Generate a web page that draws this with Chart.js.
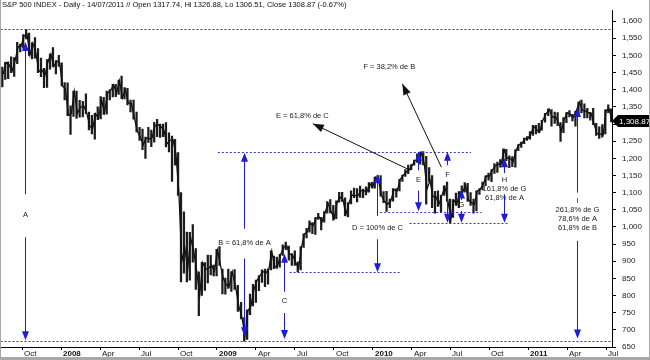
<!DOCTYPE html>
<html>
<head>
<meta charset="utf-8">
<script src="https://cdn.jsdelivr.net/npm/chart.js@4.4.1/dist/chart.umd.min.js"></script>
<style>
  html, body { margin: 0; padding: 0; background: #fff; }
  canvas { display: block; }
</style>
</head>
<body>
<canvas id="spx" width="650" height="360"></canvas>
<script>
// S&P 500, weekly high/low/close (week starting Monday)
const weekStart = [
  '2007-08-13','2007-08-20','2007-08-27','2007-09-03','2007-09-10','2007-09-17','2007-09-24','2007-10-01','2007-10-08','2007-10-15','2007-10-22','2007-10-29','2007-11-05','2007-11-12','2007-11-19','2007-11-26','2007-12-03','2007-12-10','2007-12-17','2007-12-24','2007-12-31',
  '2008-01-07','2008-01-14','2008-01-21','2008-01-28','2008-02-04','2008-02-11','2008-02-18','2008-02-25','2008-03-03','2008-03-10','2008-03-17','2008-03-24','2008-03-31','2008-04-07','2008-04-14','2008-04-21','2008-04-28','2008-05-05','2008-05-12','2008-05-19','2008-05-26','2008-06-02','2008-06-09','2008-06-16','2008-06-23','2008-06-30','2008-07-07','2008-07-14','2008-07-21','2008-07-28','2008-08-04','2008-08-11','2008-08-18','2008-08-25','2008-09-01','2008-09-08','2008-09-15','2008-09-22','2008-09-29','2008-10-06','2008-10-13','2008-10-20','2008-10-27','2008-11-03','2008-11-10','2008-11-17','2008-11-24','2008-12-01','2008-12-08','2008-12-15','2008-12-22','2008-12-29',
  '2009-01-05','2009-01-12','2009-01-19','2009-01-26','2009-02-02','2009-02-09','2009-02-16','2009-02-23','2009-03-02','2009-03-09','2009-03-16','2009-03-23','2009-03-30','2009-04-06','2009-04-13','2009-04-20','2009-04-27','2009-05-04','2009-05-11','2009-05-18','2009-05-25','2009-06-01','2009-06-08','2009-06-15','2009-06-22','2009-06-29','2009-07-06','2009-07-13','2009-07-20','2009-07-27','2009-08-03','2009-08-10','2009-08-17','2009-08-24','2009-08-31','2009-09-07','2009-09-14','2009-09-21','2009-09-28','2009-10-05','2009-10-12','2009-10-19','2009-10-26','2009-11-02','2009-11-09','2009-11-16','2009-11-23','2009-11-30','2009-12-07','2009-12-14','2009-12-21','2009-12-28',
  '2010-01-04','2010-01-11','2010-01-18','2010-01-25','2010-02-01','2010-02-08','2010-02-15','2010-02-22','2010-03-01','2010-03-08','2010-03-15','2010-03-22','2010-03-29','2010-04-05','2010-04-12','2010-04-19','2010-04-26','2010-05-03','2010-05-10','2010-05-17','2010-05-24','2010-05-31','2010-06-07','2010-06-14','2010-06-21','2010-06-28','2010-07-05','2010-07-12','2010-07-19','2010-07-26','2010-08-02','2010-08-09','2010-08-16','2010-08-23','2010-08-30','2010-09-06','2010-09-13','2010-09-20','2010-09-27','2010-10-04','2010-10-11','2010-10-18','2010-10-25','2010-11-01','2010-11-08','2010-11-15','2010-11-22','2010-11-29','2010-12-06','2010-12-13','2010-12-20','2010-12-27',
  '2011-01-03','2011-01-10','2011-01-17','2011-01-24','2011-01-31','2011-02-07','2011-02-14','2011-02-21','2011-02-28','2011-03-07','2011-03-14','2011-03-21','2011-03-28','2011-04-04','2011-04-11','2011-04-18','2011-04-25','2011-05-02','2011-05-09','2011-05-16','2011-05-23','2011-05-30','2011-06-06','2011-06-13','2011-06-20','2011-06-27','2011-07-04','2011-07-11'
];
const weekHigh = [
  1466,1480,1481,1496,1494,1538,1533,1561,1576,1565,1537,1552,1520,1492,1462,1488,1504,1523,1485,1500,1478,
  1421,1420,1353,1396, 1396,1369,1366,1388, 1335,1325,1331,1350,1380, 1378,1396,1400,1416, 1416,1428,1440,1406, 1404,1370,1370,1335,1290, 1285,1262,1290,1282, 1305,1314,1300,1300, 1304,1274,1265,1255,1217, 1100,1044,985,984, 1007,937,869,897, 896,918,917,889,935,
  943,877,851,877, 870,876,830,780, 736,758,804,833,845, 858,875,877,878, 930,915,912,920, 948,956,944,922,930, 898,943,980,996, 1018,1013,1027,1040,1028, 1045,1074,1080,1063, 1076,1101,1101,1085, 1071,1105,1113,1112,1119, 1110,1117,1129,1130,
  1145,1150,1150,1103, 1104,1081,1112,1112, 1139,1151,1167,1180,1182, 1195,1213,1218,1220, 1206,1173,1150,1104,1105, 1092,1120,1131,1081, 1080,1099,1103,1120, 1129,1127,1100,1081,1105, 1112,1131,1149,1157, 1167,1185,1189,1196, 1227,1226,1207,1205,1225, 1240,1247,1259,1263,
  1278,1296,1296,1302,1311, 1331,1344,1342,1335, 1333,1304,1319,1333, 1339,1328,1338,1364, 1370,1359,1346,1334,1346, 1302,1292,1298,1341, 1356,1344
];
const weekLow = [
  1408,1430,1432,1450,1439,1476,1510,1521,1548,1500,1490,1492,1450,1438,1406,1407,1460,1467,1446,1468,1411,
  1370,1324,1270,1322, 1316,1320,1321,1330, 1283,1271,1256,1313,1315, 1328,1329,1370,1379, 1380,1386,1374,1373, 1356,1335,1314,1277,1252, 1225,1200,1246,1234, 1247,1263,1261,1263, 1233,1219,1133,1180,1092, 840,865,840,845, 897,818,741,800, 815,837,860,857,857,
  888,805,804,821, 812,818,754,732, 667,672,744,770,780, 814,838,826,833, 875,878,879,883, 917,934,903,888,888, 869,875,940,968, 985,980,978,1022,991, 1014,1040,1041,1020, 1024,1072,1074,1033, 1029,1067,1085,1073,1086, 1085,1093,1101,1114,
  1113,1128,1090,1071, 1045,1056,1075,1087, 1105,1133,1147,1155,1167, 1180,1188,1183,1181, 1066,1133,1056,1040,1060, 1043,1092,1074,1011, 1028,1063,1056,1088, 1101,1074,1063,1040,1047, 1095,1108,1120,1136, 1132,1156,1159,1174, 1178,1193,1173,1176,1174, 1222,1232,1243,1252,
  1256,1267,1271,1275,1282, 1305,1324,1294,1302, 1295,1249,1275,1304, 1321,1309,1294,1331, 1332,1318,1318,1311,1298, 1267,1258,1262,1271, 1333,1306
];
const weekClose = [
  1445,1479,1473,1454,1484,1525,1527,1557,1562,1501,1535,1509,1453,1458,1441,1481,1504,1468,1484,1478,1411,
  1401,1325,1331,1395, 1331,1349,1353,1331, 1294,1288,1330,1316,1370, 1333,1390,1398,1414, 1389,1426,1376,1400, 1361,1360,1318,1278,1262, 1240,1260,1257,1260, 1296,1298,1292,1283, 1242,1252,1255,1213,1099, 899,940,877,968, 930,873,800,896, 876,880,888,872,932,
  890,850,832,826, 869,827,770,735, 683,756,769,816,843, 857,870,866,877, 929,883,887,919, 940,946,921,918,896, 879,941,979,987, 1010,1005,1026,1029,1016, 1042,1068,1044,1025, 1071,1087,1080,1036, 1069,1093,1091,1091,1106, 1106,1102,1126,1115,
  1145,1136,1092,1074, 1066,1075,1109,1105, 1139,1150,1160,1167,1179, 1194,1192,1217,1187, 1111,1136,1088,1089,1065, 1092,1117,1076,1023, 1078,1065,1102,1101, 1122,1079,1071,1065,1105, 1110,1125,1149,1147, 1166,1177,1183,1183, 1225,1200,1200,1190,1225, 1240,1244,1257,1258,
  1271,1293,1283,1276,1310, 1329,1343,1320,1321, 1304,1279,1314,1333, 1328,1320,1338,1364, 1340,1338,1333,1331,1300, 1271,1271,1268,1340, 1344,1309
];
const lastClose = 1308.87;
const headerText = 'S&P 500 INDEX - Daily - 14/07/2011 // Open 1317.74, Hi 1326.88, Lo 1306.51, Close 1308.87 (-0.67%)';

// x ticks (months counted from Jan 2007)
const tickMonths = [9, 12, 15, 18, 21, 24, 27, 30, 33, 36, 39, 42, 45, 48, 51, 54];
const tickLabels = ['Oct','2008','Apr','Jul','Oct','2009','Apr','Jul','Oct','2010','Apr','Jul','Oct','2011','Apr','Jul'];

// dotted horizontal levels
const levelValue = [1576, 666.8, 1219.8, 869, 1044.5, 1010.9];
const levelFrom  = ['2007-08-01','2007-08-01','2009-01-03','2009-06-19','2010-01-19','2010-03-27'];
const levelTo    = ['2011-07-31','2011-07-31','2010-08-19','2010-03-04','2010-09-13','2010-11-16'];

// blue measuring arrows
const arrowDate   = ['2007-10-08','2009-03-03','2009-06-05','2010-01-11','2010-04-17','2010-06-24','2010-07-27','2010-11-05','2011-04-24'];
const arrowTop    = [1539, 1216, 922, 1154, 1219, 1219, 1109, 1200, 1347];
const arrowBottom = [670, 681, 673, 868, 1046, 1012, 1012, 1012, 675];
const gapTop      = [1095, 995, 811, 1032, 1165, 1180, 1078, 1157, 1100];
const gapBottom   = [970, 908, 749, 964, 1106, 1123, 1046, 1095, 959];
const arrowText   = [['A'], ['B = 61,8% de A'], ['C'], ['D = 100% de C'], ['E'], ['F'], ['G'],
                     ['H', '161,8% de G', '61,8% de A'], ['I', '261,8% de G', '78,6% de A', '61,8% de B']];
const textValue   = [1035, 953, 783, 998, 1137, 1151, 1063, 1111, 1036];

// black pointer arrows with captions
const pointerFrom = [['2010-03-29', 1165], ['2010-06-10', 1174]];
const pointerTo   = [['2009-08-13', 1301], ['2010-03-10', 1417]];
const pointerText = ['E = 61,8% de C', 'F = 38,2% de B'];
const pointerTextAt = [['2009-07-19', 1324], ['2010-02-09', 1466]];

const FONT = "'Liberation Sans', Arial, sans-serif";
const BLUE = '#1c1cdc';

function monthPos(s, shift) {
  const d = new Date(s + 'T00:00:00Z');
  d.setUTCDate(d.getUTCDate() + (shift || 0));
  const y = d.getUTCFullYear(), m = d.getUTCMonth();
  const dim = new Date(Date.UTC(y, m + 1, 0)).getUTCDate();
  return (y - 2007) * 12 + m + (d.getUTCDate() - 1) / dim;
}

function head(ctx, fx, fy, tx, ty, len, half) {
  const a = Math.atan2(ty - fy, tx - fx);
  const bx = tx - len * Math.cos(a), by = ty - len * Math.sin(a);
  ctx.beginPath();
  ctx.moveTo(tx, ty);
  ctx.lineTo(bx - half * Math.sin(a), by + half * Math.cos(a));
  ctx.lineTo(bx + half * Math.sin(a), by - half * Math.cos(a));
  ctx.closePath();
  ctx.fill();
}

const overlay = {
  id: 'overlay',
  afterDatasetsDraw(chart) {
    const ctx = chart.ctx;
    const xs = chart.scales.x, ys = chart.scales.y;
    const area = chart.chartArea;
    ctx.save();

    // levels
    ctx.save();
    ctx.beginPath();
    ctx.rect(area.left, area.top, area.right - area.left, area.bottom - area.top);
    ctx.clip();
    ctx.strokeStyle = '#3434c8';
    ctx.lineWidth = 1;
    ctx.setLineDash([2, 2]);
    levelValue.forEach((v, i) => {
      const y = Math.round(ys.getPixelForValue(v)) + 0.5;
      ctx.beginPath();
      ctx.moveTo(xs.getPixelForValue(monthPos(levelFrom[i])), y);
      ctx.lineTo(xs.getPixelForValue(monthPos(levelTo[i])), y);
      ctx.stroke();
    });
    ctx.restore();

    // blue arrows
    ctx.font = '7.5px ' + FONT;
    ctx.textAlign = 'center';
    ctx.textBaseline = 'middle';
    arrowDate.forEach((d, i) => {
      const x = Math.round(xs.getPixelForValue(monthPos(d))) + 0.5;
      const yTop = ys.getPixelForValue(arrowTop[i]);
      const yBot = ys.getPixelForValue(arrowBottom[i]);
      const g1 = ys.getPixelForValue(gapTop[i]);
      const g2 = ys.getPixelForValue(gapBottom[i]);
      ctx.strokeStyle = BLUE;
      ctx.fillStyle = BLUE;
      ctx.lineWidth = 1;
      ctx.beginPath();
      ctx.moveTo(x, g1); ctx.lineTo(x, yTop + 4);
      ctx.moveTo(x, g2); ctx.lineTo(x, yBot - 4);
      ctx.stroke();
      head(ctx, x, g1, x, yTop, 9, 3.5);
      head(ctx, x, g2, x, yBot, 9, 3.5);
      const lines = arrowText[i];
      const yc = ys.getPixelForValue(textValue[i]);
      ctx.fillStyle = '#1a1a1a';
      lines.forEach((t, k) => {
        ctx.fillText(t, x, yc + (k - (lines.length - 1) / 2) * 9);
      });
    });

    // black pointers
    ctx.strokeStyle = '#111';
    ctx.fillStyle = '#111';
    pointerFrom.forEach((p, i) => {
      const fx = xs.getPixelForValue(monthPos(p[0])), fy = ys.getPixelForValue(p[1]);
      const tx = xs.getPixelForValue(monthPos(pointerTo[i][0])), ty = ys.getPixelForValue(pointerTo[i][1]);
      ctx.beginPath();
      ctx.moveTo(fx, fy); ctx.lineTo(tx, ty);
      ctx.stroke();
      head(ctx, fx, fy, tx, ty, 11, 4);
      ctx.fillStyle = '#1a1a1a';
      ctx.fillText(pointerText[i], xs.getPixelForValue(monthPos(pointerTextAt[i][0])), ys.getPixelForValue(pointerTextAt[i][1]));
      ctx.fillStyle = '#111';
    });

    // header, fitted to the width it has in the source window
    ctx.font = '10px ' + FONT;
    const w = ctx.measureText(headerText).width;
    ctx.font = (10 * 345 / w).toFixed(2) + 'px ' + FONT;
    ctx.textAlign = 'left';
    ctx.fillStyle = '#111';
    ctx.fillText(headerText, 2, 5);
    ctx.restore();
  },
  afterDraw(chart) {
    const ctx = chart.ctx;
    const xs = chart.scales.x, ys = chart.scales.y;
    const area = chart.chartArea;
    ctx.save();

    // date labels, left-aligned just after each tick
    ctx.textAlign = 'left';
    ctx.textBaseline = 'middle';
    ctx.fillStyle = '#111';
    tickMonths.forEach((v, i) => {
      const isYear = /^\d{4}$/.test(tickLabels[i]);
      ctx.font = (isYear ? 'bold ' : '') + '8px ' + FONT;
      ctx.fillText(tickLabels[i], Math.round(xs.getPixelForValue(v)) + 2, area.bottom + 6.5);
    });

    // last price tag
    const y = Math.round(ys.getPixelForValue(lastClose));
    ctx.fillStyle = '#000';
    ctx.beginPath();
    ctx.moveTo(area.right, y);
    ctx.lineTo(area.right + 6, y - 6);
    ctx.lineTo(650, y - 6);
    ctx.lineTo(650, y + 6);
    ctx.lineTo(area.right + 6, y + 6);
    ctx.closePath();
    ctx.fill();
    ctx.fillStyle = '#fff';
    ctx.font = '8px ' + FONT;
    ctx.fillText(lastClose.toLocaleString('en-US', { minimumFractionDigits: 2 }), area.right + 7, y + 0.5);

    // window frame
    ctx.fillStyle = '#a8a8a8';
    ctx.fillRect(0, 0, 1, 360);
    ctx.fillRect(649, 0, 1, 360);
    ctx.fillRect(0, 357, 650, 3);
    ctx.restore();
  }
};

Chart.defaults.font.family = FONT;
Chart.defaults.font.size = 8;
Chart.defaults.color = '#1a1a1a';

const bars = weekStart.map((w, i) => ({ x: monthPos(w, 2), y: [weekLow[i], weekHigh[i]] }));
const closes = weekStart.map((w, i) => ({ x: monthPos(w, 4), y: weekClose[i] }));

new Chart(document.getElementById('spx'), {
  type: 'bar',
  data: {
    datasets: [{
      type: 'line',
      data: closes,
      borderColor: '#111',
      borderWidth: 1.3,
      pointRadius: 0,
      tension: 0
    }, {
      data: bars,
      backgroundColor: '#1c1c1c',
      borderWidth: 0,
      barThickness: 1.6
    }]
  },
  options: {
    responsive: false,
    animation: false,
    layout: { padding: { left: 1, top: 1, right: 0, bottom: 0 } },
    plugins: { legend: { display: false }, tooltip: { enabled: false } },
    scales: {
      x: {
        type: 'linear',
        offset: false,
        min: 7.35,
        max: 54.45,
        afterBuildTicks: (s) => { s.ticks = tickMonths.map(v => ({ value: v })); },
        afterFit: (s) => { s.height = 13; },
        grid: { drawOnChartArea: false, drawTicks: true, tickLength: 3, color: '#000', offset: false },
        border: { display: true, color: '#000' },
        ticks: {
          autoSkip: false,
          maxRotation: 0,
          callback: () => ''
        }
      },
      y: {
        position: 'right',
        min: 650,
        max: 1630,
        afterFit: (s) => { s.width = 38; },
        grid: { drawOnChartArea: false, drawTicks: true, tickLength: 4, color: '#000' },
        border: { display: true, color: '#000' },
        ticks: {
          stepSize: 50,
          includeBounds: false,
          padding: 6,
          callback: (v) => v.toLocaleString('en-US')
        }
      }
    }
  },
  plugins: [overlay]
});
</script>
</body>
</html>
